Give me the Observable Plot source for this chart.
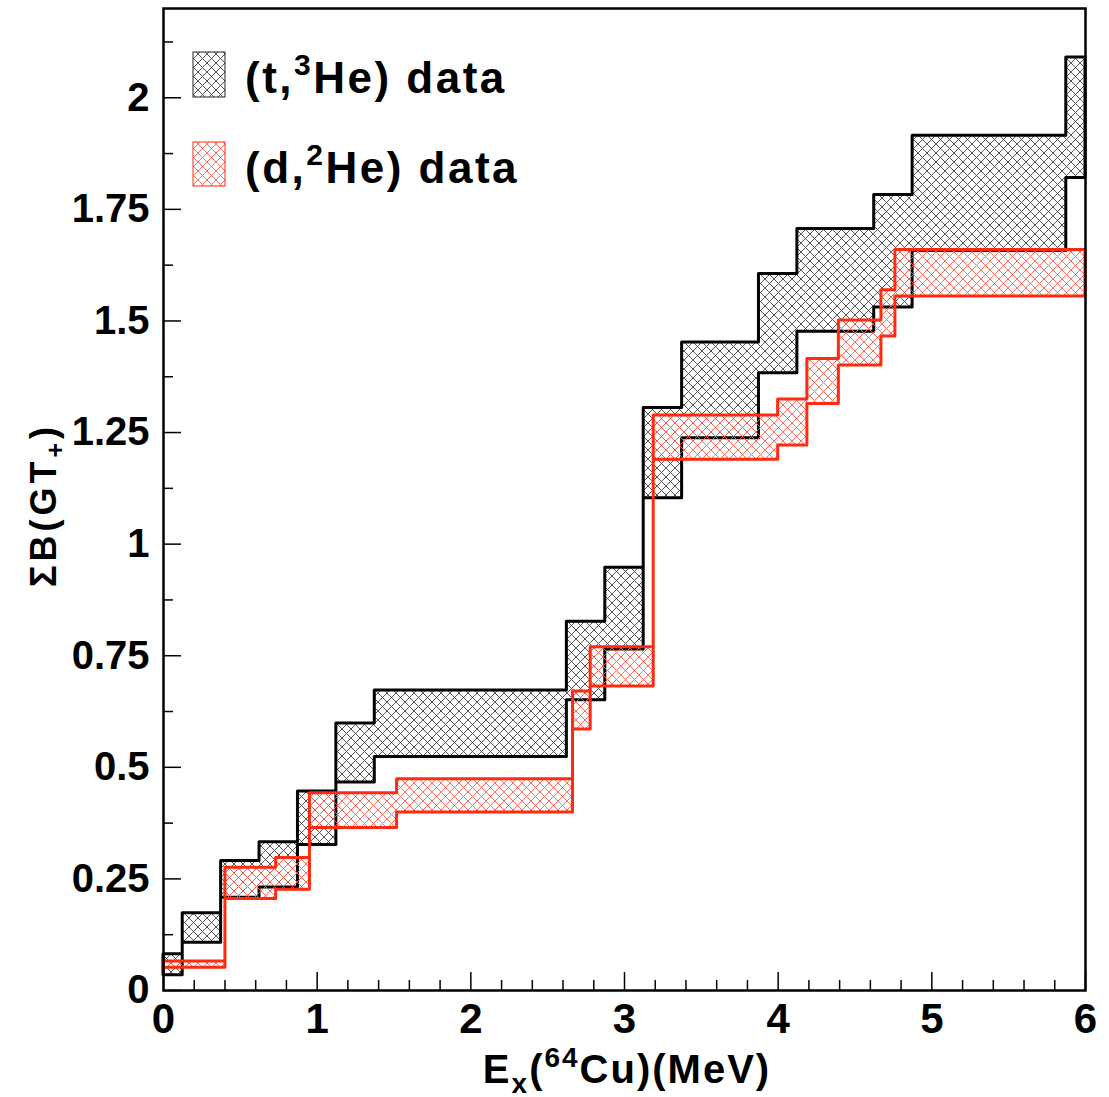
<!DOCTYPE html>
<html><head><meta charset="utf-8">
<script src="https://cdn.jsdelivr.net/npm/d3@7"></script>
<script src="https://cdn.jsdelivr.net/npm/@observablehq/plot@0.6"></script>
<style>body{margin:0;background:#fff}</style>
</head><body><div id="chart"></div>
<script>
// (t,3He) band: bin edges (MeV), upper and lower cumulative B(GT+)
const tEdges = [0, 0.125, 0.375, 0.625, 0.875, 1.125, 1.375, 2.625, 2.875, 3.125, 3.375, 3.875, 4.125, 4.625, 4.875, 5.875, 6];
const tUpper = [0.081, 0.173, 0.29, 0.332, 0.446, 0.598, 0.672, 0.826, 0.947, 1.305, 1.452, 1.605, 1.706, 1.782, 1.915, 2.09];
const tLower = [0.034, 0.107, 0.208, 0.231, 0.326, 0.466, 0.523, 0.65, 0.764, 1.103, 1.237, 1.383, 1.476, 1.530, 1.657, 1.82];
// (d,2He) band
const dEdges = [0, 0.403, 0.733, 0.953, 1.52, 2.665, 2.78, 3.19, 4.0, 4.19, 4.395, 4.672, 4.763, 6];
const dUpper = [0.065, 0.275, 0.297, 0.442, 0.473, 0.670, 0.769, 1.288, 1.324, 1.415, 1.501, 1.569, 1.659];
const dLower = [0.051, 0.205, 0.2255, 0.364, 0.399, 0.585, 0.681, 1.189, 1.221, 1.314, 1.400, 1.465, 1.555];

const xMajor = [0, 1, 2, 3, 4, 5, 6];
const xLabels = ["0", "1", "2", "3", "4", "5", "6"];
const xMinor = [0.2, 0.4, 0.6, 0.8, 1.2, 1.4, 1.6, 1.8, 2.2, 2.4, 2.6, 2.8, 3.2, 3.4, 3.6, 3.8, 4.2, 4.4, 4.6, 4.8, 5.2, 5.4, 5.6, 5.8];
const yMajor = [0, 0.25, 0.5, 0.75, 1, 1.25, 1.5, 1.75, 2];
const yLabels = ["0", "0.25", "0.5", "0.75", "1", "1.25", "1.5", "1.75", "2"];
const yMinor = [0.125, 0.375, 0.625, 0.875, 1.125, 1.375, 1.625, 1.875, 2.125];

const legendNames = ["(t,", "3", "He) data", "(d,", "2", "He) data"];

const RED = "#ff2a10";
const FONT = "'Liberation Sans', Arial, Helvetica, sans-serif";

function band(edges, upper, lower) {
  const rows = upper.map((u, i) => ({x: edges[i], hi: u, lo: lower[i]}));
  rows.push({x: edges[edges.length - 1], hi: upper[upper.length - 1], lo: lower[lower.length - 1]});
  return rows;
}
const tData = band(tEdges, tUpper, tLower);
const dData = band(dEdges, dUpper, dLower);

const axisText = {fontSize: 40, fontWeight: "bold", fontFamily: FONT, fill: "black"};

const chart = Plot.plot({
  width: 1109, height: 1097,
  marginLeft: 163, marginRight: 24, marginTop: 8, marginBottom: 107,
  style: {fontFamily: FONT, background: "white", color: "black", overflow: "visible"},
  x: {domain: [0, 6], axis: null, label: null},
  y: {domain: [0, 2.2], axis: null, label: null},
  marks: [
    Plot.areaY(tData, {x: "x", y1: "lo", y2: "hi", curve: "step-after", fill: "url(#hatchK)", stroke: "black", strokeWidth: 3}),
    Plot.areaY(dData, {x: "x", y1: "lo", y2: "hi", curve: "step-after", fill: "url(#hatchR)", stroke: RED, strokeWidth: 3}),
    Plot.axisX(xMinor, {tickSize: -10, tickFormat: () => "", strokeWidth: 1.5, label: null}),
    Plot.axisX(xMajor, {tickSize: -18, tickFormat: () => "", strokeWidth: 1.5, label: null}),
    Plot.axisX(xMajor, {tickSize: 0, tickPadding: 13, tickFormat: (d, i) => xLabels[i], ...axisText, fontSize: 42, label: null}),
    Plot.axisY(yMinor, {tickSize: -10, tickFormat: () => "", strokeWidth: 1.5, label: null}),
    Plot.axisY(yMajor, {tickSize: -18, tickFormat: () => "", strokeWidth: 1.5, label: null}),
    Plot.axisY(yMajor, {tickSize: 0, tickPadding: 14, tickFormat: (d, i) => yLabels[i], ...axisText, label: null}),
    Plot.frame({stroke: "black", strokeWidth: 2.5})
  ]
});
document.getElementById("chart").appendChild(chart);

const svg = d3.select(chart);
const defs = svg.insert("defs", ":first-child");
function hatch(id, color, w) {
  const p = defs.append("pattern").attr("id", id).attr("patternUnits", "userSpaceOnUse")
    .attr("width", 9).attr("height", 9);
  p.append("path").attr("d", "M0,0L9,9M9,0L0,9M-1,8L1,10M8,-1L10,1M-1,1L1,-1M8,10L10,8")
    .attr("stroke", color).attr("stroke-width", w).attr("fill", "none");
}
hatch("hatchK", "#444", 0.9);
hatch("hatchR", "#ff5a4a", 0.9);

// Legend
const lg = svg.append("g").attr("font-family", FONT).attr("font-weight", "bold").attr("fill", "black").attr("text-anchor", "start");
lg.append("rect").attr("x", 193).attr("y", 52).attr("width", 32).attr("height", 45)
  .attr("fill", "url(#hatchK)").attr("stroke", "#222").attr("stroke-width", 1);
lg.append("rect").attr("x", 193).attr("y", 142).attr("width", 32).attr("height", 44)
  .attr("fill", "url(#hatchR)").attr("stroke", RED).attr("stroke-width", 1);
function legendText(y, a, sup, b) {
  const t = lg.append("text").attr("x", 245).attr("y", y).attr("font-size", 44).attr("letter-spacing", 2.5).attr("text-anchor", "start");
  t.append("tspan").text(a);
  t.append("tspan").attr("font-size", 30).attr("dy", -18).text(sup);
  t.append("tspan").attr("font-size", 44).attr("dy", 18).text(b);
}
legendText(93, legendNames[0], legendNames[1], legendNames[2]);
legendText(183, legendNames[3], legendNames[4], legendNames[5]);

// Axis titles
const xt = svg.append("text").attr("x", 627).attr("y", 1083).attr("text-anchor", "middle")
  .attr("font-family", FONT).attr("font-weight", "bold").attr("font-size", 40).attr("letter-spacing", 2).attr("fill", "black");
xt.append("tspan").text("E");
xt.append("tspan").attr("font-size", 28).attr("dy", 10).text("x");
xt.append("tspan").attr("font-size", 40).attr("dy", -10).text("(");
xt.append("tspan").attr("font-size", 28).attr("dy", -16).text("64");
xt.append("tspan").attr("font-size", 40).attr("dy", 16).text("Cu)(MeV)");

const yt = svg.append("text").attr("transform", "translate(56,505) rotate(-90)").attr("text-anchor", "middle")
  .attr("font-family", FONT).attr("font-weight", "bold").attr("font-size", 36).attr("letter-spacing", 4).attr("fill", "black");
yt.append("tspan").text("\u03A3B(GT");
yt.append("tspan").attr("font-size", 25).attr("dy", 8).text("+");
yt.append("tspan").attr("font-size", 36).attr("dy", -8).text(")");
</script>
</body></html>
